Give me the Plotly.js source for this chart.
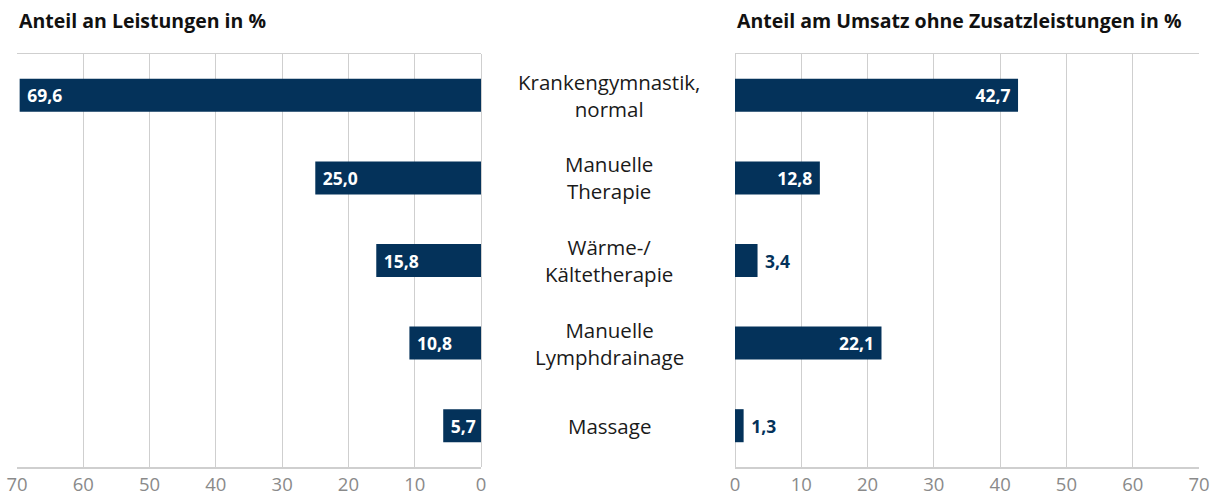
<!DOCTYPE html>
<html><head><meta charset="utf-8">
<script src="https://cdn.plot.ly/plotly-3.0.1.min.js"></script>
<style>html,body{margin:0;padding:0;background:#fff}#c{width:1215px;height:497px}</style>
</head><body><div id="c"></div>
<script>
const categories = ["Krankengymnastik,<br>normal", "Manuelle<br>Therapie", "Wärme-/<br>Kältetherapie", "Manuelle<br>Lymphdrainage", "Massage"];
const leistungen = [69.6, 25.0, 15.8, 10.8, 5.7];
const umsatz = [42.7, 12.8, 3.4, 22.1, 1.3];
const tickVals = [0, 10, 20, 30, 40, 50, 60, 70];
const titleLeft = "Anteil an Leistungen in %";
const titleRight = "Anteil am Umsatz ohne Zusatzleistungen in %";

const barColor = "#04325a";
const fmt = v => v.toFixed(1).replace(".", ",");
const FONT = "Open Sans, sans-serif";
const NB = "\u00a0";

const left = {
  type: "bar", orientation: "h", x: leistungen, y: categories,
  xaxis: "x", yaxis: "y", marker: {color: barColor}, width: 0.4,
  text: leistungen.map(v => NB + fmt(v)), textposition: "inside", insidetextanchor: "end",
  constraintext: "none", cliponaxis: false,
  textfont: {family: FONT, size: 17.5, color: "#ffffff", weight: "bold"},
  hoverinfo: "skip"
};
const rightPos = umsatz.map(v => v < 5 ? "outside" : "inside");
const right = {
  type: "bar", orientation: "h", x: umsatz, y: categories,
  xaxis: "x2", yaxis: "y2", marker: {color: barColor}, width: 0.4,
  text: umsatz.map((v, i) => rightPos[i] === "outside" ? NB + fmt(v) : fmt(v) + NB),
  textposition: rightPos,
  insidetextanchor: "end", constraintext: "none", cliponaxis: false,
  insidetextfont: {family: FONT, size: 17.5, color: "#ffffff", weight: "bold"},
  outsidetextfont: {family: FONT, size: 17.5, color: barColor, weight: "bold"},
  hoverinfo: "skip"
};

const gridC = "#cfcfcf";
const xBase = {
  tickvals: tickVals, showgrid: true, gridcolor: gridC, gridwidth: 1,
  zeroline: true, zerolinecolor: gridC, zerolinewidth: 1,
  showline: true, linecolor: gridC, linewidth: 1.5, mirror: true,
  ticks: "", tickfont: {family: FONT, size: 18.5, color: "#8a8a8a"}, fixedrange: true
};
const yTop = 1 - 54/497, yBot = 1 - 467/497;
const yBase = {type: "category", autorange: "reversed", showticklabels: false,
  showgrid: false, zeroline: false, showline: false, ticks: "", domain: [yBot, yTop]};

const annotations = categories.map(c => ({
  xref: "paper", yref: "y", x: 609/1215, y: c, text: c, showarrow: false,
  xanchor: "center", yanchor: "middle", align: "center",
  font: {family: FONT, size: 20.5, color: "#1a1a1a"}
}));
annotations.push({xref: "paper", yref: "paper", x: 17/1215, y: 1 - 21/497, text: "<b>" + titleLeft + "</b>",
  showarrow: false, xanchor: "left", yanchor: "middle", font: {family: FONT, size: 19.5, color: "#111"}});
annotations.push({xref: "paper", yref: "paper", x: 735/1215, y: 1 - 21/497, text: "<b>" + titleRight + "</b>",
  showarrow: false, xanchor: "left", yanchor: "middle", font: {family: FONT, size: 19.5, color: "#111"}});

const layout = {
  width: 1215, height: 497, margin: {l: 0, r: 0, t: 0, b: 0},
  paper_bgcolor: "#fff", plot_bgcolor: "#fff", showlegend: false, bargap: 0.6,
  uniformtext: {minsize: 17.5, mode: "show"},
  xaxis: Object.assign({}, xBase, {range: [70, 0], domain: [17/1215, 481/1215], anchor: "y"}),
  xaxis2: Object.assign({}, xBase, {range: [0, 70], domain: [735/1215, 1199/1215], anchor: "y2"}),
  yaxis: Object.assign({}, yBase, {anchor: "x"}),
  yaxis2: Object.assign({}, yBase, {anchor: "x2"}),
  annotations: annotations
};
Plotly.newPlot("c", [left, right], layout, {displayModeBar: false, staticPlot: true});
</script></body></html>
